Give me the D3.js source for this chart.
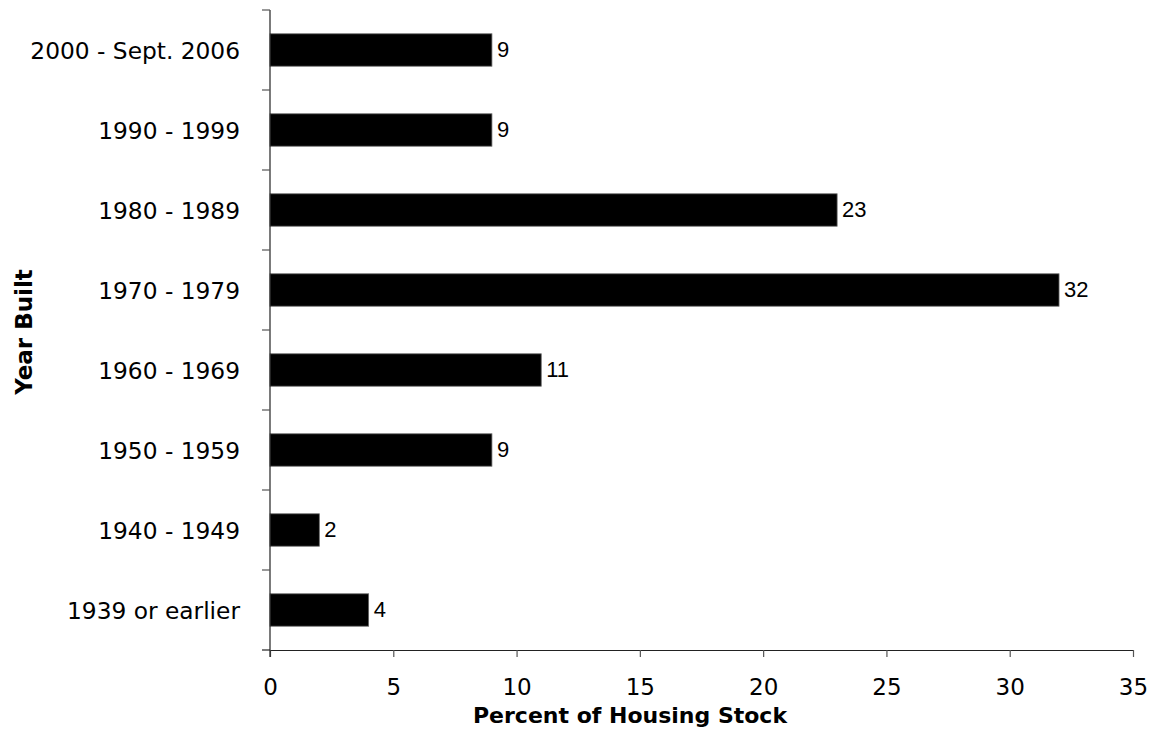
<!DOCTYPE html>
<html>
<head>
<meta charset="utf-8">
<script src="https://cdn.jsdelivr.net/npm/d3@7"></script>
<style>
  html, body { margin: 0; padding: 0; background: #fff; }
  svg { display: block; }
</style>
</head>
<body>
<svg id="chart" width="1160" height="732"></svg>
<script>
const categories = ["2000 - Sept. 2006", "1990 - 1999", "1980 - 1989", "1970 - 1979", "1960 - 1969", "1950 - 1959", "1940 - 1949", "1939 or earlier"];
const values = [9, 9, 23, 32, 11, 9, 2, 4];
const xTicks = [0, 5, 10, 15, 20, 25, 30, 35];
const xTitle = "Percent of Housing Stock";
const yTitle = "Year Built";

(function () {
const svg = d3.select("#chart");
const mLeft = 270, mRight = 1133, mTop = 10, mBottom = 650;

const x = d3.scaleLinear().domain([0, 35]).range([mLeft, mRight]);
const y = d3.scaleBand().domain(categories).range([mTop, mBottom]).paddingInner(0.595).paddingOuter(0.2975);

const catFont = "'DejaVu Sans', Verdana, sans-serif";

// bars
svg.append("g").selectAll("rect").data(categories).join("rect")
  .attr("x", x(0))
  .attr("y", d => y(d))
  .attr("width", (d, i) => x(values[i]) - x(0))
  .attr("height", y.bandwidth())
  .attr("fill", "#000")
  .attr("stroke", "#666")
  .attr("stroke-width", 0.8);

// value labels
svg.append("g").selectAll("text").data(categories).join("text")
  .attr("x", (d, i) => x(values[i]) + 5)
  .attr("y", d => y(d) + y.bandwidth() / 2)
  .attr("dy", "0.32em")
  .attr("font-family", "'Liberation Sans', Arial, sans-serif")
  .attr("font-size", 22)
  .attr("fill", "#000")
  .text((d, i) => values[i]);

// x axis
const xAxis = d3.axisBottom(x).tickValues(xTicks).tickSize(7).tickSizeOuter(0);
const gx = svg.append("g").attr("transform", `translate(0,${mBottom})`).call(xAxis);
gx.select(".domain").attr("stroke", "#222").attr("stroke-width", 1.2);
gx.selectAll(".tick line").attr("stroke", "#555").attr("stroke-width", 1.2);
gx.selectAll(".tick text")
  .attr("y", 45).attr("dy", 0)
  .attr("font-family", catFont).attr("font-size", 23).attr("fill", "#000");

// y axis line
svg.append("line")
  .attr("x1", mLeft).attr("x2", mLeft).attr("y1", mTop).attr("y2", mBottom + 7)
  .attr("stroke", "#222").attr("stroke-width", 1.2);

// y ticks at band boundaries
const boundaries = categories.map(c => y(c) - y.step() * y.paddingInner() / 2).concat([mBottom]);
svg.append("g").selectAll("line").data(boundaries).join("line")
  .attr("x1", mLeft - 8).attr("x2", mLeft)
  .attr("y1", d => d).attr("y2", d => d)
  .attr("stroke", (d, i) => i === boundaries.length - 1 ? "#222" : "#555").attr("stroke-width", 1.2);

// category labels
svg.append("g").selectAll("text").data(categories).join("text")
  .attr("x", 240)
  .attr("y", d => y(d) + y.bandwidth() / 2)
  .attr("dy", "0.38em")
  .attr("text-anchor", "end")
  .attr("font-family", catFont)
  .attr("font-size", 23.3)
  .attr("fill", "#000")
  .text(d => d);

// axis titles
svg.append("text")
  .attr("x", 630)
  .attr("y", 723)
  .attr("text-anchor", "middle")
  .attr("font-family", catFont)
  .attr("font-weight", "bold")
  .attr("font-size", 22)
  .attr("fill", "#000")
  .text(xTitle);

svg.append("text")
  .attr("transform", `translate(32,332) rotate(-90)`)
  .attr("text-anchor", "middle")
  .attr("font-family", catFont)
  .attr("font-weight", "bold")
  .attr("font-size", 23)
  .attr("fill", "#000")
  .text(yTitle);
})();
</script>
</body>
</html>
